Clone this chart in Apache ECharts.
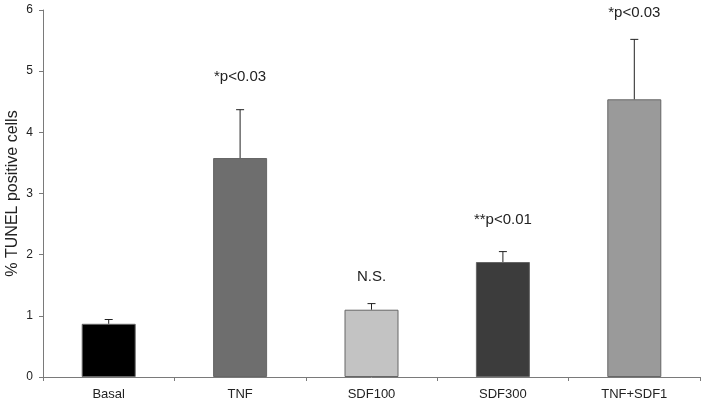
<!DOCTYPE html>
<html><head><meta charset="utf-8">
<script src="https://cdn.jsdelivr.net/npm/echarts@6/dist/echarts.min.js"></script>
<style>html,body{margin:0;padding:0;background:#fff}#c{width:704px;height:405px}</style>
</head><body><div id="c"></div>
<script>
var categories = ['Basal', 'TNF', 'SDF100', 'SDF300', 'TNF+SDF1'];
var means = [0.87, 3.58, 1.10, 1.88, 4.54];
var errors = [0.07, 0.79, 0.10, 0.17, 0.98];
var annotations = ['', '*p<0.03', 'N.S.', '**p<0.01', '*p<0.03'];
var annotationY = [null, 4.90, 1.63, 2.57, 5.95];
var barColors = ['#000000', '#6e6e6e', '#c3c3c3', '#3c3c3c', '#9a9a9a'];
var yTicks = [0, 1, 2, 3, 4, 5, 6];

var chart = echarts.init(document.getElementById('c'), null, {renderer: 'canvas'});
var font = 'Liberation Sans, Arial, sans-serif';
chart.setOption({
  animation: false,
  grid: {left: 43, right: 4, top: 10, bottom: 28, containLabel: false, outerBoundsMode: 'none'},
  xAxis: {
    type: 'category', data: categories,
    axisLine: {lineStyle: {color: '#7a7a7a', width: 1}},
    axisTick: {show: true, length: 4, lineStyle: {color: '#7a7a7a'}},
    axisLabel: {color: '#222', fontSize: 13, fontFamily: font, margin: 11}
  },
  yAxis: {
    type: 'value', min: yTicks[0], max: yTicks[yTicks.length - 1], interval: 1,
    name: '% TUNEL positive cells', nameLocation: 'middle', nameGap: 22, nameRotate: 90,
    nameMoveOverlap: false,
    nameTextStyle: {fontSize: 16, color: '#222', fontFamily: font},
    axisLine: {show: true, lineStyle: {color: '#7a7a7a'}},
    axisTick: {show: true, length: 4, lineStyle: {color: '#7a7a7a'}},
    splitLine: {show: false},
    axisLabel: {color: '#222', fontSize: 12, fontFamily: font, margin: 10}
  },
  series: [
    {
      type: 'bar', barWidth: 54,
      data: means.map(function (v, i) {
        return {value: v, itemStyle: {color: barColors[i], borderColor: '#666', borderWidth: 1}};
      })
    },
    {
      type: 'custom', z: 5,
      data: means.map(function (v, i) { return [i, v, v + errors[i], annotationY[i] == null ? 0 : annotationY[i]]; }),
      renderItem: function (params, api) {
        var x = api.coord([api.value(0), 0])[0];
        var top = api.coord([api.value(0), api.value(1)])[1];
        var hi = api.coord([api.value(0), api.value(2)])[1];
        var ty = api.coord([api.value(0), api.value(3)])[1];
        var txt = annotations[params.dataIndex];
        var children = [
          {type: 'line', shape: {x1: x, y1: top, x2: x, y2: hi}, style: {stroke: '#222', lineWidth: 1}},
          {type: 'line', shape: {x1: x - 4, y1: hi, x2: x + 4, y2: hi}, style: {stroke: '#222', lineWidth: 1}}
        ];
        if (txt) {
          children.push({type: 'text', x: x, y: ty,
            style: {text: txt, fill: '#222', fontSize: 15, fontFamily: font, align: 'center', verticalAlign: 'middle'}});
        }
        return {type: 'group', children: children};
      }
    }
  ]
});
</script></body></html>
